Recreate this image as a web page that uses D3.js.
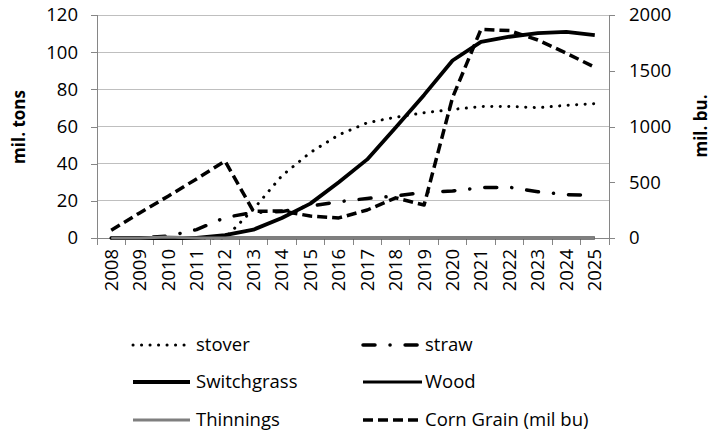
<!DOCTYPE html>
<meta charset="utf-8">
<style>
body { margin: 0; background: #fff; font-family: "Open Sans", sans-serif; }
.axis text { font-family: "Open Sans", sans-serif; font-size: 18.5px; fill: #000; }
.axis path, .axis line { stroke: #868686; stroke-width: 1; shape-rendering: crispEdges; }
.grid line { stroke: #bfbfbf; stroke-width: 1; shape-rendering: crispEdges; }
.title { font-family: "Open Sans", sans-serif; font-size: 17px; font-weight: bold; }
.legend text { font-family: "Open Sans", sans-serif; font-size: 18.5px; }
</style>
<body>
<svg width="712" height="435"></svg>
<script src="https://d3js.org/d3.v7.min.js"></script>
<script>

// values
var years = ["2008","2009","2010","2011","2012","2013","2014","2015","2016","2017","2018","2019","2020","2021","2022","2023","2024","2025"];
var stover      = [0, 0, 0, 0, 0, 15.5, 33.5, 46, 55.5, 62, 65, 67.4, 69.2, 70.7, 70.8, 70.1, 71.4, 72.3];
var straw       = [0, 0, 1, 4.5, 11, 13.8, 14.2, 17.2, 19.5, 21.3, 22.6, 24.6, 25.3, 27.1, 27.3, 24.9, 23.3, 23];
var switchgrass = [0, 0, 0, 0, 1.5, 4.5, 10.8, 18.5, 30, 42.3, 59.5, 77, 95.5, 105.5, 108.3, 110.3, 110.9, 109.2];
var wood        = [0, 0, 0, 0, 0, 0, 0, 0, 0, 0, 0, 0, 0, 0, 0, 0, 0, 0];
var thinnings   = [0, 0, 0.6, 0, 0, 0, 0, 0, 0, 0, 0, 0, 0, 0, 0, 0, 0, 0];
var cornGrain   = [70, 225, 375, 530, 690, 240, 242, 197, 180, 251, 360, 296, 1260, 1872, 1860, 1776, 1657, 1531];

var leftTicks = [0, 20, 40, 60, 80, 100, 120];
var rightTicks = [0, 500, 1000, 1500, 2000];

var series = [
    {name: "stover", values: stover, axis: "left", color: "#000", width: 3, dash: "0.1,8.4", cap: "round"},
    {name: "straw", values: straw, axis: "left", color: "#000", width: 3.5, dash: "12,15,0.1,15", cap: "round"},
    {name: "Switchgrass", values: switchgrass, axis: "left", color: "#000", width: 3.8, dash: null, cap: "butt"},
    {name: "Wood", values: wood, axis: "left", color: "#000", width: 2.8, dash: null, cap: "butt"},
    {name: "Thinnings", values: thinnings, axis: "left", color: "#7f7f7f", width: 3, dash: null, cap: "butt"},
    {name: "Corn Grain (mil bu)", values: cornGrain, axis: "right", color: "#000", width: 3.5, dash: "10,5", cap: "butt"}
];

var svg = d3.select("svg"),
    margin = {top: 15, right: 103, bottom: 197, left: 97},
    width = +svg.attr("width") - margin.left - margin.right,
    height = +svg.attr("height") - margin.top - margin.bottom,
    g = svg.append("g").attr("transform", "translate(" + margin.left + "," + margin.top + ")");

var x = d3.scaleBand().domain(years).range([0, width]);
var y = d3.scaleLinear().domain([0, 120]).range([height, 0]);
var y2 = d3.scaleLinear().domain([0, 2000]).range([height, 0]);

// gridlines
g.append("g").attr("class", "grid")
    .selectAll("line")
    .data(leftTicks.slice(1))
    .enter().append("line")
    .attr("x1", 0).attr("x2", width)
    .attr("y1", function(d) { return y(d); })
    .attr("y2", function(d) { return y(d); });

// left axis
g.append("g").attr("class", "axis")
    .call(d3.axisLeft(y).tickValues(leftTicks).tickSize(6).tickPadding(13));

// right axis
g.append("g").attr("class", "axis")
    .attr("transform", "translate(" + width + ",0)")
    .call(d3.axisRight(y2).tickValues(rightTicks).tickFormat(d3.format("d")).tickSize(6).tickPadding(14));

// bottom axis, labels at band centres, ticks at band edges
var xAxis = g.append("g").attr("class", "axis")
    .attr("transform", "translate(0," + height + ")")
    .call(d3.axisBottom(x).tickSize(0).tickPadding(0).tickSizeOuter(0));
xAxis.selectAll("text")
    .attr("transform", "rotate(-90)")
    .attr("text-anchor", "end")
    .attr("x", -11)
    .attr("y", 0)
    .attr("dy", "0.35em");
xAxis.selectAll(".edge")
    .data(years.map(function(d) { return x(d); }).concat([width]))
    .enter().append("line")
    .attr("x1", function(d) { return d; }).attr("x2", function(d) { return d; })
    .attr("y1", 0).attr("y2", 7);

// axis titles
svg.append("text").attr("class", "title")
    .attr("transform", "translate(25," + (margin.top + 112) + ") rotate(-90)")
    .attr("text-anchor", "middle")
    .text("mil. tons");
svg.append("text").attr("class", "title")
    .attr("transform", "translate(707," + (margin.top + 111) + ") rotate(-90)")
    .attr("text-anchor", "middle")
    .text("mil. bu.");

// lines
series.forEach(function(s) {
    var yy = s.axis === "left" ? y : y2;
    var line = d3.line()
        .x(function(d, i) { return x(years[i]) + x.bandwidth() / 2; })
        .y(function(d) { return yy(d); });
    g.append("path")
        .datum(s.values)
        .attr("fill", "none")
        .attr("stroke", s.color)
        .attr("stroke-width", s.width)
        .attr("stroke-linejoin", "round")
        .attr("stroke-linecap", s.cap)
        .attr("stroke-dasharray", s.dash)
        .attr("d", line);
});

// legend
var legendPos = [[133, 345], [363, 345], [133, 382], [363, 382], [133, 420], [363, 420]];
var lg = svg.append("g").attr("class", "legend");
series.forEach(function(s, i) {
    var p = legendPos[i];
    var len = i % 2 === 0 ? 57 : 59;
    lg.append("line")
        .attr("x1", p[0]).attr("x2", p[0] + len)
        .attr("y1", p[1]).attr("y2", p[1])
        .attr("stroke", s.color)
        .attr("stroke-width", s.width)
        .attr("stroke-linecap", s.cap)
        .attr("stroke-dasharray", s.dash);
    lg.append("text")
        .attr("x", p[0] + len + (i % 2 === 0 ? 6 : 3))
        .attr("y", p[1])
        .attr("dy", "0.35em")
        .text(s.name);
});

</script>
</body>
